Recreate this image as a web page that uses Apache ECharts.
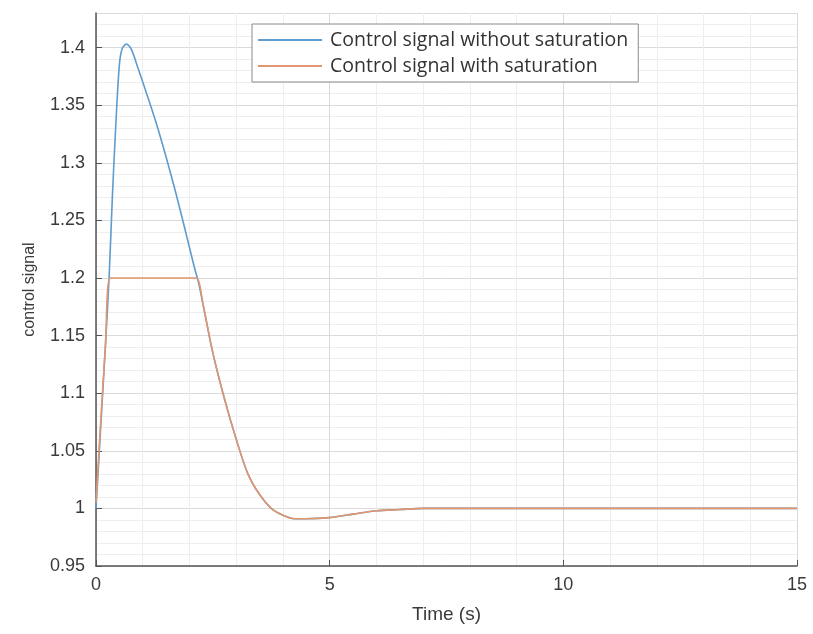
<!DOCTYPE html>
<html>
<head>
<meta charset="utf-8">
<script src="https://cdn.jsdelivr.net/npm/echarts@6/dist/echarts.min.js"></script>
<style>
html,body{margin:0;padding:0;background:#fff;}
#chart{width:813px;height:634px;}
</style>
</head>
<body>
<div id="chart"></div>
<script>
// Series names
var seriesNames = ['Control signal without saturation', 'Control signal with saturation'];

// Control signal without saturation: [time (s), value]
var noSatTime  = [0, 0.1, 0.2, 0.28, 0.35, 0.42, 0.5, 0.56, 0.65, 0.75, 0.9, 1.1, 1.3, 1.5, 1.7, 1.9, 2.1, 2.2,
                  2.3, 2.5, 2.75, 3.0, 3.25, 3.5, 3.75, 4.0, 4.25, 4.5, 5.0, 5.5, 6.0, 6.5, 7.0, 8.0, 10.0, 12.0, 15.0];
var noSatValue = [1.0, 1.07, 1.14, 1.2, 1.27, 1.33, 1.385, 1.399, 1.403, 1.399, 1.382, 1.358, 1.333, 1.305, 1.275, 1.243, 1.21, 1.195,
                  1.175, 1.135, 1.095, 1.06, 1.03, 1.012, 1.0, 0.994, 0.991, 0.991, 0.992, 0.995, 0.998, 0.999, 1.0, 1.0, 1.0, 1.0, 1.0];

// Control signal with saturation: [time (s), value]
var satTime  = [0, 0.1, 0.2, 0.3, 0.5, 1.0, 1.5, 2.0, 2.15, 2.3, 2.5, 2.75, 3.0, 3.25, 3.5, 3.75, 4.0, 4.25, 4.5, 5.0, 5.5, 6.0, 6.5, 7.0, 8.0, 10.0, 12.0, 15.0];
var satValue = [1.005, 1.075, 1.14, 1.2, 1.2, 1.2, 1.2, 1.2, 1.2, 1.175, 1.135, 1.095, 1.06, 1.03, 1.012, 1.0, 0.994, 0.991, 0.991, 0.992, 0.995, 0.998, 0.999, 1.0, 1.0, 1.0, 1.0, 1.0];

function zip(a, b) { return a.map(function (v, i) { return [v, b[i]]; }); }

var chart = echarts.init(document.getElementById('chart'));
var axisColor = '#555';
var labelColor = '#3a3a3a';
chart.setOption({
  backgroundColor: '#fff',
  animation: false,
  grid: { left: 96, right: 16, top: 13, bottom: 68 },
  legend: {
    orient: 'vertical',
    left: 252, top: 24,
    itemWidth: 64, itemHeight: 2, itemGap: 6,
    padding: [6, 10, 6, 6],
    backgroundColor: '#fff',
    borderColor: '#8a8a8a', borderWidth: 1,
    icon: 'rect',
    textStyle: { fontFamily: 'Open Sans', fontSize: 19.5, color: '#333', padding: [0, 0, 0, 3] },
    data: seriesNames
  },
  xAxis: {
    type: 'value', min: 0, max: 15, interval: 5,
    name: 'Time (s)', nameLocation: 'middle', nameGap: 39,
    nameTextStyle: { fontFamily: 'Liberation Sans', fontSize: 19, color: labelColor },
    axisLine: { show: true, lineStyle: { color: axisColor, width: 1.5 } },
    axisTick: { show: true, inside: true, length: 6, lineStyle: { color: axisColor } },
    axisLabel: { fontFamily: 'Liberation Sans', fontSize: 18, color: labelColor, margin: 10 },
    splitLine: { show: true, lineStyle: { color: '#dadada', width: 1 } },
    minorTick: { show: false, splitNumber: 5 },
    minorSplitLine: { show: true, lineStyle: { color: '#eeeeee', width: 1 } }
  },
  yAxis: {
    type: 'value', min: 0.95, max: 1.43, interval: 0.05,
    name: 'control signal', nameLocation: 'middle', nameGap: 58,
    nameTextStyle: { fontFamily: 'Liberation Sans', fontSize: 16, color: labelColor },
    axisLine: { show: true, lineStyle: { color: axisColor, width: 1.5 } },
    axisTick: { show: true, inside: true, length: 6, lineStyle: { color: axisColor } },
    axisLabel: {
      fontFamily: 'Liberation Sans', fontSize: 18, color: labelColor, margin: 11,
      showMaxLabel: false,
      formatter: function (v) { return String(+v.toFixed(2)); }
    },
    splitLine: { show: true, lineStyle: { color: '#dadada', width: 1 } },
    minorTick: { show: false, splitNumber: 5 },
    minorSplitLine: { show: true, lineStyle: { color: '#eeeeee', width: 1 } }
  },
  series: [
    {
      name: seriesNames[0], type: 'line', showSymbol: false, smooth: 0.3,
      data: zip(noSatTime, noSatValue),
      lineStyle: { color: '#5e9ccf', width: 1.6 }, itemStyle: { color: '#5e9ccf' }, z: 2
    },
    {
      name: seriesNames[1], type: 'line', showSymbol: false, smooth: 0.3,
      data: zip(satTime, satValue),
      lineStyle: { color: '#e3956d', width: 1.6 }, itemStyle: { color: '#e3956d' }, z: 3
    }
  ]
});
</script>
</body>
</html>
